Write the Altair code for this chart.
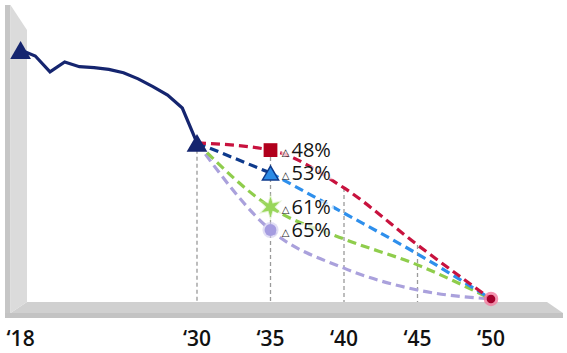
import altair as alt
import pandas as pd

# ---------------- data ----------------
hist_years = [2018, 2019, 2020, 2021, 2022, 2023, 2024, 2025, 2026, 2027, 2028, 2029, 2030]
hist_values = [100.0, 97.6, 91.2, 95.2, 93.3, 92.9, 92.2, 90.9, 88.4, 85.3, 81.9, 76.7, 62.7]

scen_years = [2030, 2035, 2040, 2045, 2050]
red_values = [62.7, 59.8, 44.6, 21.7, 0.0]
blue_values = [62.7, 50.6, 34.5, 18.1, 0.0]
green_values = [62.7, 36.9, 24.1, 13.7, 0.0]
purple_values = [62.7, 27.7, 12.4, 3.6, 0.0]

scen_labels = ["48%", "53%", "61%", "65%"]
tick_years = [2018, 2030, 2035, 2040, 2045, 2050]
tick_labels = ["\u201818", "\u201830", "\u201835", "\u201840", "\u201845", "\u201850"]
guide_years = [2030, 2035, 2040, 2045]

# ---------------- geometry / style ----------------
W, H = 567, 353
XDOM = [2016.599, 2055.170]
YDOM = [-21.69, 120.08]
FLOOR = -1.2
TICK_Y = -16.6
xs = alt.Scale(domain=XDOM, nice=False, zero=False)
ys = alt.Scale(domain=YDOM, nice=False, zero=False)

NAVY = "#15256f"
RED = "#c8123e"
BLUE = "#2e8fec"
BLUE_DARK = "#0e3a8c"
GREEN = "#8fcd4c"
PURPLE = "#aaa1dc"


def X(field="x"):
    return alt.X(f"{field}:Q", scale=xs, axis=None)


def Y(field="y"):
    return alt.Y(f"{field}:Q", scale=ys, axis=None)


# wall & floor decoration (in data units)
wall_outer = pd.DataFrame({"x": [2016.939, 2017.313], "y": [118.07, 118.07], "y2": [-7.63, -7.63]})
wall_face = pd.DataFrame({"x": [2017.313, 2018.435], "y": [118.07, 108.03], "y2": [-5.62, -1.2]})
floor_base = pd.DataFrame({"x": [2016.939, 2054.898], "y": [-5.62, -5.62], "y2": [-7.63, -7.63]})
floor_top = pd.DataFrame({"x": [2017.313, 2018.435, 2053.810, 2054.898],
                          "y": [-5.62, -1.2, -1.2, -5.62],
                          "y2": [-5.62, -5.62, -5.62, -5.62]})

deco = [
    alt.Chart(wall_outer).mark_area(color="#c6c6c6").encode(x=X(), y=Y(), y2="y2:Q"),
    alt.Chart(floor_base).mark_area(color="#c3c3c3").encode(x=X(), y=Y(), y2="y2:Q"),
    alt.Chart(floor_top).mark_area(color="#d0d0d0").encode(x=X(), y=Y(), y2="y2:Q"),
    alt.Chart(wall_face).mark_area(color="#dbdbdb").encode(x=X(), y=Y(), y2="y2:Q"),
]

# guide rules
guides = pd.DataFrame({"x": guide_years, "y": red_values[:4], "y2": [FLOOR] * 4})
guide_layer = alt.Chart(guides).mark_rule(color="#9a9a9a", strokeDash=[4, 3], strokeWidth=1.3).encode(
    x=X(), y=Y(), y2="y2:Q")


def scen_line(xv, yv, color, interp="monotone"):
    df = pd.DataFrame({"x": xv, "y": yv})
    return alt.Chart(df).mark_line(color=color, strokeWidth=3.2, strokeDash=[9, 5],
                                   interpolate=interp).encode(x=X(), y=Y())


scen_layers = [
    scen_line(scen_years, purple_values, PURPLE),
    scen_line(scen_years, green_values, GREEN),
    scen_line(scen_years[1:], blue_values[1:], BLUE),
    scen_line(scen_years[:2], blue_values[:2], BLUE_DARK, "linear"),
    scen_line(scen_years, red_values, RED),
]

hist = pd.DataFrame({"x": hist_years, "y": hist_values})
hist_line = alt.Chart(hist).mark_line(color=NAVY, strokeWidth=3.2).encode(x=X(), y=Y())

ends = pd.DataFrame({"x": [hist_years[0], hist_years[-1]], "y": [hist_values[0], hist_values[-1]]})
end_tri = alt.Chart(ends).mark_point(shape="triangle-up", filled=True, size=430, color=NAVY,
                                     opacity=1).encode(x=X(), y=Y())

STAR = ("M0,-1L0.2,-0.346L0.866,-0.5L0.4,0L0.866,0.5L0.2,0.346L0,1L-0.2,0.346"
        "L-0.866,0.5L-0.4,0L-0.866,-0.5L-0.2,-0.346Z")


def pt(xv, yv, **kw):
    df = pd.DataFrame({"x": [xv], "y": [yv]})
    return alt.Chart(df).mark_point(filled=True, opacity=1, **kw).encode(x=X(), y=Y())


markers = [
    pt(2035, red_values[1], shape="square", size=190, color="#b1001c"),
    pt(2035, blue_values[1], shape="triangle-up", size=260, fill="#2b8be6", stroke=BLUE_DARK, strokeWidth=1.5),
    pt(2035, green_values[1], shape=STAR, size=760, color="#c6e8a0", fillOpacity=0.45),
    pt(2035, green_values[1], shape=STAR, size=420, color="#98d65a"),
    pt(2035, purple_values[1], shape="circle", size=260, color="#cdc8ee", fillOpacity=0.6),
    pt(2035, purple_values[1], shape="circle", size=140, color="#a59ce0"),
    pt(2050, 0.0, shape="circle", size=210, color="#f27a9e", fillOpacity=0.8),
    pt(2050, 0.0, shape="circle", size=75, color="#a3002b"),
]

lab = pd.DataFrame({"x": [2035] * 4,
                    "y": [red_values[1], blue_values[1], green_values[1], purple_values[1]],
                    "t": scen_labels})
# translucent white box behind each label (fades the lines passing behind it)
lab_box = alt.Chart(lab).transform_calculate(
    bx1="datum.x + 0.75", bx2="datum.x + 4.3", by1="datum.y + 2.7", by2="datum.y - 2.5"
).mark_rect(color="white", opacity=0.72).encode(
    x=X("bx1"), x2="bx2:Q", y=Y("by1"), y2="by2:Q")
lab_tri = alt.Chart(lab).mark_text(text="\u25b3", align="center", baseline="middle", dx=15, dy=3,
                                   fontSize=10, font="DejaVu Sans", color="#222222").encode(x=X(), y=Y())
lab_num = alt.Chart(lab).mark_text(align="left", baseline="middle", dx=21, dy=1, fontSize=20,
                                   font="Open Sans", fontWeight=500, color="#141414").encode(
    x=X(), y=Y(), text="t:N")

ticks = pd.DataFrame({"x": tick_years, "t": tick_labels, "y": [TICK_Y] * 6})
tick_text = alt.Chart(ticks).mark_text(align="center", baseline="middle", fontSize=21,
                                       font="Open Sans", fontWeight=600, color="#111111").encode(
    x=X(), y=Y(), text="t:N")

chart = alt.layer(
    *deco, guide_layer, *scen_layers, hist_line, end_tri, lab_box, *markers,
    lab_tri, lab_num, tick_text
).properties(
    width=W, height=H, autosize=alt.AutoSizeParams(type="none"), padding=0, background="white"
).configure_view(strokeWidth=0)

chart.save("out.html", embed_options={"renderer": "svg", "actions": False})
